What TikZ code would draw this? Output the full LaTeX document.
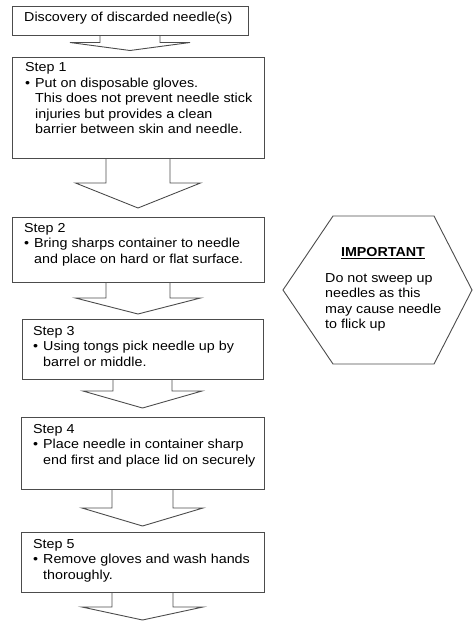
\documentclass[tikz,border=0pt]{standalone}
\usepackage{fontspec}
\setmainfont{Liberation Sans}[FakeStretch=1.1]
\usetikzlibrary{calc}

\tikzset{
    box/.style={draw=black!70, line width=0.9pt, anchor=north west, inner sep=0pt, outer sep=0pt},
    txt/.style={anchor=north west, align=left, inner sep=0pt, font=\fontsize{13}{15.5}\selectfont},
    blk/.style={draw=black!70, line width=0.9pt, line join=miter},
}
\newcommand\bul{\makebox[10pt][l]{\textbullet}}
\newcommand\ind{\hspace*{10pt}}
% block arrow under a box: node, shaft length, head length, shaft half width, head half width
\newcommand\blockarr[5]{\draw[blk] ($(#1.south)+(-#4,0)$) -- ++(0,#2) -- ++(#4-#5,0) -- ++(#5,#3) -- ++(#5,-#3) -- ++(#4-#5,0) -- ++(0,-#2);}

\begin{document}
\begin{tikzpicture}[x=1pt, y=-1pt]
        \useasboundingbox (0,0) rectangle (473,621);
        % boxes
        \node[box, minimum width=236, minimum height=29] (top) at (12,6) {};
        \node[box, minimum width=252, minimum height=101] (s1) at (12,57) {};
        \node[box, minimum width=252, minimum height=65] (s2) at (12,217) {};
        \node[box, minimum width=241, minimum height=60] (s3) at (22,319) {};
        \node[box, minimum width=243, minimum height=72] (s4) at (21,417) {};
        \node[box, minimum width=243, minimum height=60] (s5) at (21,532) {};
        % texts
        \node[txt] (topt) at (24,12) {Discovery of discarded needle(s)};
        \node[txt] (s1t) at (25,62.5) {Step 1\\\bul Put on disposable gloves.\\\ind This does not prevent needle stick\\\ind injuries but provides a clean\\\ind barrier between skin and needle.};
        \node[txt] (s2t) at (24,223) {Step 2\\\bul Bring sharps container to needle\\\ind and place on hard or flat surface.};
        \node[txt] (s3t) at (33,326) {Step 3\\\bul Using tongs pick needle up by\\\ind barrel or middle.};
        \node[txt] (s4t) at (33,424) {Step 4\\\bul Place needle in container sharp\\\ind end first and place lid on securely};
        \node[txt] (s5t) at (33,539) {Step 5\\\bul Remove gloves and wash hands\\\ind thoroughly.};
        % arrows
        \foreach \n/\a/\b/\c/\d in {top/7.5/8/30/60, s1/25/25/32/62.5, s2/16/16/32/62.5, s3/12/17/29.5/59.5, s4/19/18/30.5/60.5, s5/15/13/30.5/60.5}{
            \blockarr{\n}{\a}{\b}{\c}{\d}
        }
        % hexagon
        \coordinate (imp) at (378,290);
        \draw[blk] ($(imp)+(-95,0)$) -- ++(50,-74) -- ++(101,0) -- ++(38,74) -- ++(-38,74) -- ++(-101,0) -- cycle;
        \node[txt, anchor=base] (impt) at (383,256.5) {\underline{\textbf{IMPORTANT}}};
        \node[txt] (impb) at (325,273) {Do not sweep up\\needles as this\\may cause needle\\to flick up};
\end{tikzpicture}
\end{document}
